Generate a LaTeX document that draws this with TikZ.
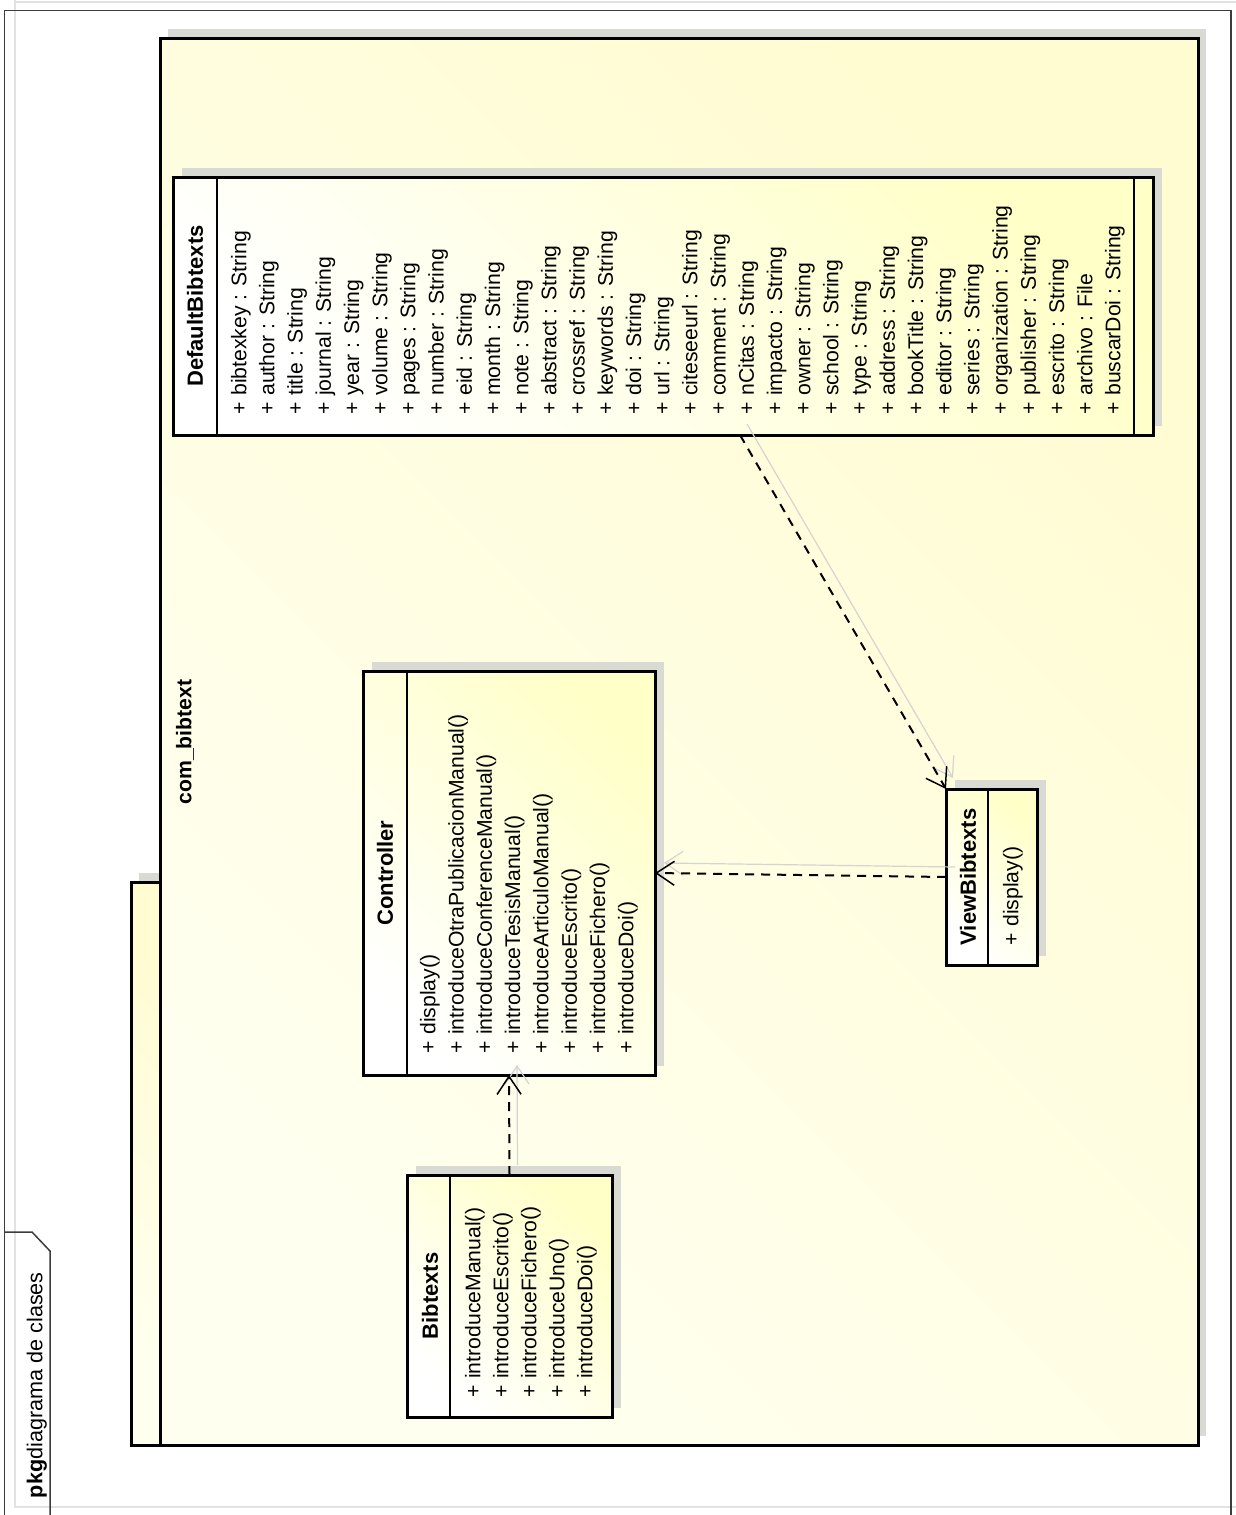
\documentclass[tikz,border=0pt]{standalone}
\usepackage{fontspec}
\setmainfont{Liberation Sans}
\usetikzlibrary{arrows.meta}
\pgfdeclarelayer{back}
\pgfdeclarelayer{shade}
\pgfsetlayers{back,shade,main}
\definecolor{framedark}{HTML}{3C3C3C}
\definecolor{framelight}{HTML}{E2E2E2}
\definecolor{shadowgray}{HTML}{DADAD4}
\definecolor{pkglight}{HTML}{FFFFF0}
\definecolor{pkgyellow}{HTML}{FFFCD2}
\definecolor{clslight}{HTML}{FFFFFF}
\definecolor{clsyellow}{HTML}{FFFFC8}
\definecolor{linkshadow}{HTML}{D4D4D0}

\begin{document}
\begin{tikzpicture}[x=0.5pt,y=-0.5pt,
  every node/.style={inner sep=0pt,outer sep=0pt},
  txt/.style={font=\fontsize{10.6}{12}\selectfont},
  member/.style={txt,rotate=90,anchor=mid west},
  clstitle/.style={font=\bfseries\fontsize{11}{13}\selectfont,rotate=90},
  classbox/.style={draw=black,line width=1.5pt,bottom color=clslight,top color=clsyellow,shading angle=-45},
  pkgpart/.style={draw=black,line width=1.5pt,bottom color=pkglight,top color=pkgyellow,shading angle=-45},
  divider/.style={line width=0.7pt},
  boxshadow/.style={fill=shadowgray},
  depend/.style={line width=1pt,dash pattern=on 4.5pt off 3.5pt,
    -{Straight Barb[length=9pt,width=12pt,line width=0.75pt]}},
  dependshadow/.style={draw=linkshadow,line width=0.6pt,
    -{Straight Barb[length=9pt,width=12pt]}},
]
\useasboundingbox (0,0) rectangle (1236,1515);

% diagram frame
\draw[framelight,line width=0.6pt] (15,0) -- (15,1507) -- (1236,1507);
\draw[framelight,line width=0.6pt] (15,2) -- (1236,2);
\draw[framedark,line width=0.75pt] (4.5,1515) -- (4.5,10.5) -- (1231,10.5) -- (1231,1515);
\draw[framedark,line width=0.75pt] (4.5,1232) -- (32,1232) -- (50,1251) -- (50,1515);
\node[rotate=90,anchor=mid west,font=\fontsize{10.8}{13}\selectfont] (pkglabel) at (37,1498)
  {\textbf{pkg}diagrama de clases};

% package com_bibtext
\begin{pgfonlayer}{back}
  \fill[shadowgray] (139,873) rectangle (168,1436);
  \fill[shadowgray] (168,29) rectangle (1206,1436);
  \path[pkgpart] (131,882) rectangle (160,1445);
  \path[pkgpart] (160,38) rectangle (1198,1445);
\end{pgfonlayer}
\node[clstitle,font=\bfseries\fontsize{10.6}{13}\selectfont] (pkgname) at (185,742) {com\_bibtext};

% class boxes
\node[classbox,minimum width=490pt,minimum height=129pt] (dflt) at (663,306) {};
\node[classbox,minimum width=146pt,minimum height=202pt] (ctrl) at (509,873) {};
\node[classbox,minimum width=102.5pt,minimum height=121pt] (bib) at (509.5,1296) {};
\node[classbox,minimum width=45.5pt,minimum height=88pt] (view) at (991.5,877) {};

\begin{pgfonlayer}{shade}
  \foreach \b in {dflt,ctrl,bib,view}
    \fill[boxshadow] ([shift={(9,-9)}]\b.south west) rectangle ([shift={(9,-9)}]\b.north east);
\end{pgfonlayer}

% compartments
\draw[divider] ([xshift=22pt]dflt.north west) -- ([xshift=22pt]dflt.south west);
\draw[divider] ([xshift=-9.5pt]dflt.north east) -- ([xshift=-9.5pt]dflt.south east);
\draw[divider] ([xshift=22pt]ctrl.north west) -- ([xshift=22pt]ctrl.south west);
\draw[divider] ([xshift=21.5pt]bib.north west) -- ([xshift=21.5pt]bib.south west);
\draw[divider] ([xshift=21pt]view.north west) -- ([xshift=21pt]view.south west);

% titles
\node[clstitle] (dflt-title) at ([xshift=11pt]dflt.west) {DefaultBibtexts};
\node[clstitle] (ctrl-title) at ([xshift=11pt]ctrl.west) {Controller};
\node[clstitle] (bib-title) at ([xshift=11.5pt]bib.west) {Bibtexts};
\node[clstitle] (view-title) at ([xshift=11pt]view.west) {ViewBibtexts};

% attributes
\foreach \t [count=\i from 0] in {bibtexkey : String, author : String, title : String,
  journal : String, year : String, volume : String, pages : String, number : String,
  eid : String, month : String, note : String, abstract : String, crossref : String,
  keywords : String, doi : String, url : String, citeseeurl : String, comment : String,
  nCitas : String, impacto : String, owner : String, school : String, type : String,
  address : String, bookTitle : String, editor : String, series : String,
  organization : String, publisher : String, escrito : String, archivo : File,
  buscarDoi : String}
  \node[member] (dflt-a\i) at ({241+28.2*\i},414) {+ \t};

% operations
\foreach \t [count=\i from 0] in {display(), introduceOtraPublicacionManual(),
  introduceConferenceManual(), introduceTesisManual(), introduceArticuloManual(),
  introduceEscrito(), introduceFichero(), introduceDoi()}
  \node[member] (ctrl-o\i) at ({430+28.3*\i},1053) {+ \t};

\foreach \t [count=\i from 0] in {introduceManual(), introduceEscrito(),
  introduceFichero(), introduceUno(), introduceDoi()}
  \node[member] (bib-o\i) at ({475+28*\i},1397) {+ \t};

\node[member] (view-o0) at (1013,945) {+ display()};

% dependencies
\draw[dependshadow] ([shift={(7,-11)}]dflt.south) ++(38.5pt,0) coordinate (d0)
  (d0) -- ([shift={(7,-11)}]view.north west);
\draw[dependshadow] ([shift={(9,-10)}]view.west) -- ([shift={(9,-10)}]ctrl.east);
\draw[dependshadow] ([shift={(8,-10)}]bib.north) -- ([shift={(8,-10)}]ctrl.south);

\draw[depend] ([xshift=38.5pt]dflt.south) -- (view.north west);
\draw[depend] (view.west) -- (ctrl.east);
\draw[depend] (bib.north) -- (ctrl.south);
\end{tikzpicture}
\end{document}
